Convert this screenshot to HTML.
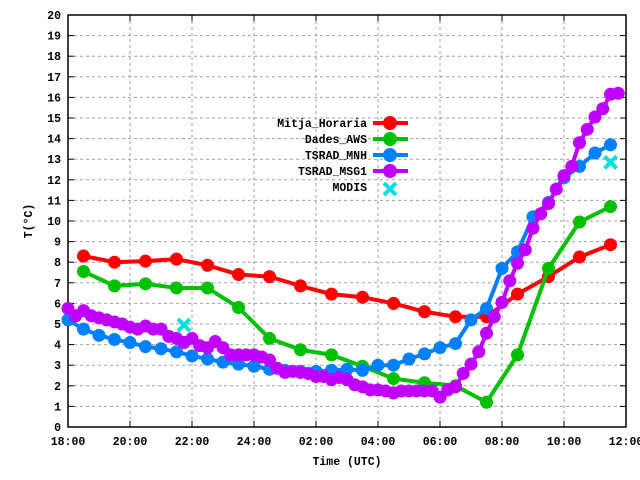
<!DOCTYPE html>
<html><head><meta charset="utf-8"><style>body{margin:0;background:#fff}svg{display:block}text{font-family:"Liberation Mono",monospace;font-size:11.5px;font-weight:bold;fill:#000}</style></head>
<body>
<svg id="chart" width="640" height="480" viewBox="0 0 640 480" xmlns="http://www.w3.org/2000/svg">
<g id="grid"></g>
<g id="axes"></g>
<g id="series"></g>
<g id="legend"></g>
<text transform="translate(32,221) rotate(-90)" text-anchor="middle">T(°C)</text>
<text x="347" y="465" text-anchor="middle">Time (UTC)</text>
</svg>
<script>
const xTickLabels=["18:00","20:00","22:00","24:00","02:00","04:00","06:00","08:00","10:00","12:00"];
const yTicks=[0,1,2,3,4,5,6,7,8,9,10,11,12,13,14,15,16,17,18,19,20];
const hourlyTimes=[0.5,1.5,2.5,3.5,4.5,5.5,6.5,7.5,8.5,9.5,10.5,11.5,12.5,13.5,14.5,15.5,16.5,17.5];
const mitjaHoraria=[8.3,8.0,8.05,8.15,7.85,7.4,7.3,6.85,6.45,6.3,6.0,5.6,5.35,5.35,6.45,7.3,8.25,8.85];
const dadesAWS=[7.55,6.85,6.95,6.75,6.75,5.8,4.3,3.75,3.5,2.95,2.35,2.15,2.0,1.2,3.5,7.7,9.95,10.7];
const tsradMNH=[5.2,4.75,4.45,4.25,4.1,3.9,3.8,3.65,3.45,3.3,3.15,3.05,2.95,2.8,2.75,2.7,2.7,2.75,2.8,2.75,3.0,3.0,3.3,3.55,3.85,4.05,5.2,5.75,7.7,8.5,10.2,10.9,12.1,12.65,13.3,13.7];
const tsradMSG1=[5.75,5.4,5.65,5.4,5.3,5.2,5.1,5.0,4.85,4.75,4.9,4.75,4.75,4.4,4.3,4.1,4.3,3.95,3.85,4.15,3.85,3.5,3.5,3.5,3.5,3.4,3.25,2.85,2.65,2.7,2.65,2.6,2.45,2.45,2.3,2.4,2.3,2.05,1.95,1.8,1.8,1.75,1.65,1.75,1.75,1.75,1.75,1.75,1.45,1.8,1.95,2.6,3.05,3.65,4.55,5.35,6.05,7.1,7.95,8.6,9.65,10.35,10.85,11.55,12.2,12.65,13.8,14.45,15.05,15.45,16.15,16.2];
const modisTimes=[3.74,17.5];
const modisValues=[4.95,12.85];
const X0=68,X1=626,Y0=427,Y1=15;
const xs=h=>X0+(X1-X0)*h/18, ys=v=>Y0-(Y0-Y1)*v/20;
const NS="http://www.w3.org/2000/svg";
function mk(parent,tag,attrs){const e=document.createElementNS(NS,tag);for(const k in attrs)e.setAttribute(k,attrs[k]);parent.appendChild(e);return e;}
const grid=document.getElementById('grid'),axes=document.getElementById('axes'),ser=document.getElementById('series'),leg=document.getElementById('legend');
yTicks.forEach(v=>{const y=ys(v);
 if(v>0&&v<20){const g=mk(grid,'line',{x1:X0,x2:X1,y1:y,y2:y,stroke:'#a0a0a0','stroke-dasharray':'3,3'});}
 mk(axes,'line',{x1:X0,x2:X0+6,y1:y,y2:y,stroke:'#000'});mk(axes,'line',{x1:X1-6,x2:X1,y1:y,y2:y,stroke:'#000'});
 const t=mk(axes,'text',{x:X0-7,y:y+4,'text-anchor':'end'});t.textContent=v;});
xTickLabels.forEach((l,i)=>{const x=xs(i*2);
 if(i>0&&i<9){const g=mk(grid,'line',{x1:x,x2:x,y1:Y1,y2:Y0,stroke:'#a0a0a0','stroke-dasharray':'3,3'});}
 mk(axes,'line',{x1:x,x2:x,y1:Y0,y2:Y0-6,stroke:'#000'});mk(axes,'line',{x1:x,x2:x,y1:Y1,y2:Y1+6,stroke:'#000'});
 const t=mk(axes,'text',{x:x,y:Y0+18,'text-anchor':'middle'});t.textContent=l;});
const fr=mk(axes,'rect',{x:X0,y:Y1,width:X1-X0,height:Y0-Y1,fill:'none',stroke:'#000','stroke-width':1.5});

function series(name,times,vals,color,r){const g=mk(ser,'g',{});
 mk(g,'polyline',{points:times.map((t,i)=>xs(t)+','+ys(vals[i])).join(' '),fill:'none',stroke:color,'stroke-width':4,'stroke-linejoin':'round'});
 times.forEach((t,i)=>{const c=mk(g,'circle',{cx:xs(t),cy:ys(vals[i]),r:r,fill:color});});}
series('series-mitja-horaria',hourlyTimes,mitjaHoraria,'#ff0000',6.5);
series('series-dades-aws',hourlyTimes,dadesAWS,'#00c000',6.5);
series('series-tsrad-mnh',tsradMNH.map((v,i)=>i*0.5),tsradMNH,'#0080ff',6.5);
series('series-tsrad-msg1',tsradMSG1.map((v,i)=>i*0.25),tsradMSG1,'#c000ff',6.5);
function cross(g,x,y){mk(g,'path',{d:`M${x-6},${y-6}L${x+6},${y+6}M${x-6},${y+6}L${x+6},${y-6}`,stroke:'#00e0e0','stroke-width':4});}
const mg=mk(ser,'g',{});
modisTimes.forEach((t,i)=>cross(mg,xs(t),ys(modisValues[i])));
const legItems=[['Mitja_Horaria','#ff0000'],['Dades_AWS','#00c000'],['TSRAD_MNH','#0080ff'],['TSRAD_MSG1','#c000ff'],['MODIS','#00e0e0']];
legItems.forEach((it,i)=>{const y=123+i*16;const g=mk(leg,'g',{});
 const t=mk(g,'text',{x:367,y:y+4,'text-anchor':'end'});t.textContent=it[0];
 if(i<4){mk(g,'line',{x1:373,x2:408,y1:y,y2:y,stroke:it[1],'stroke-width':4});mk(g,'circle',{cx:390,cy:y,r:7,fill:it[1]});}
 else cross(g,390,y+2);});
</script>
</body></html>
